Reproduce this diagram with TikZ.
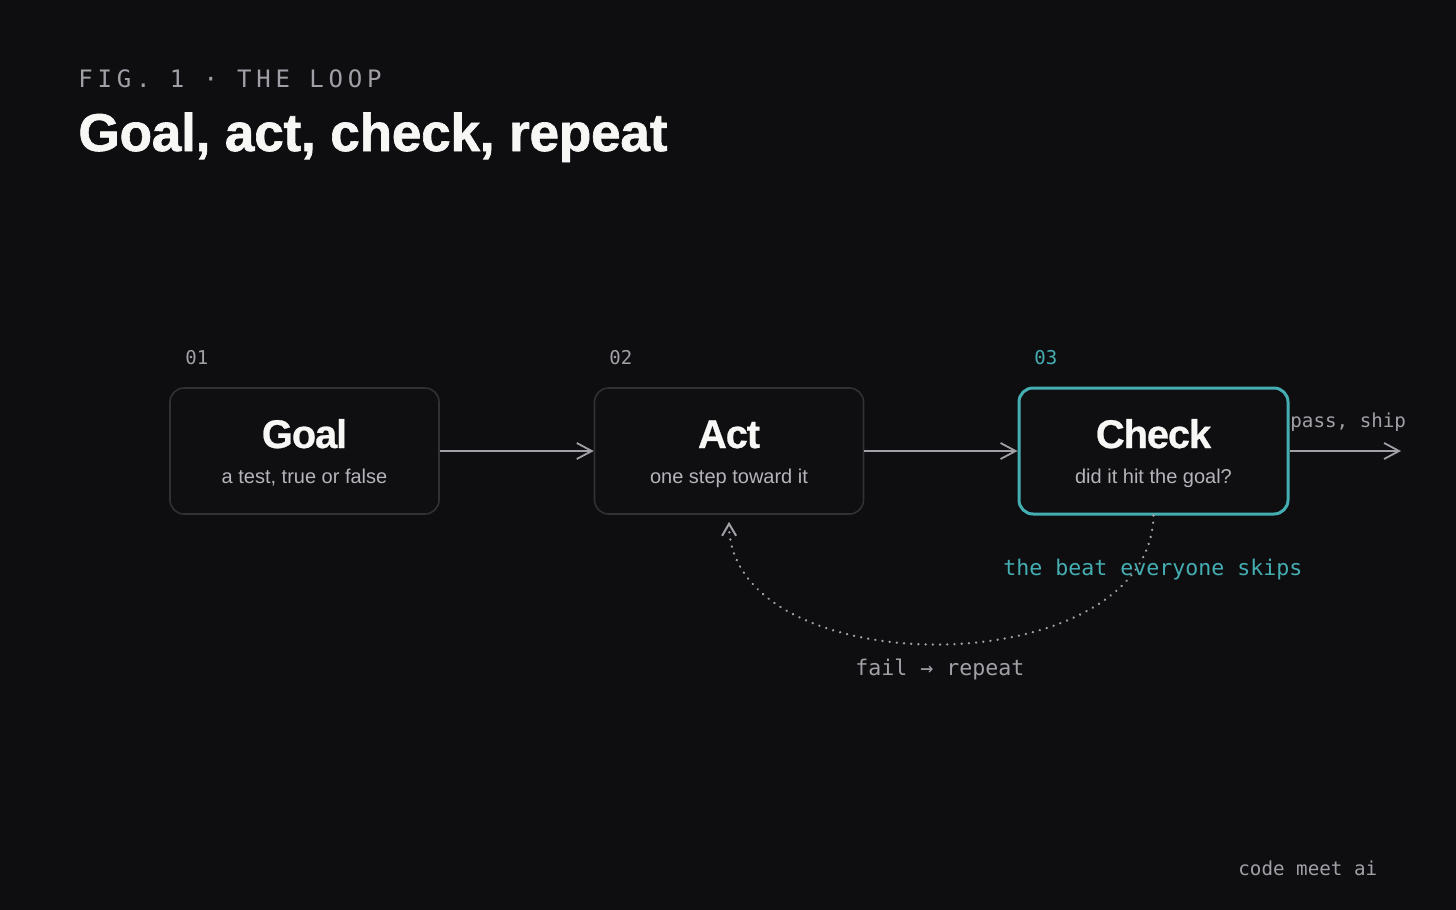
\documentclass[tikz,border=0pt]{standalone}
\usepackage{fontspec}
\setmainfont{Liberation Sans}
\newfontfamily\monof{DejaVu Sans Mono}
\newfontfamily\monosp[LetterSpace=20]{DejaVu Sans Mono}
\newfontfamily\headf[LetterSpace=-3, FakeBold=0.6]{Liberation Sans}
\newfontfamily\titlef[LetterSpace=-0.5, FakeBold=1.2]{Liberation Sans}
\usetikzlibrary{arrows.meta}
\definecolor{bg}{HTML}{0E0E11}
\definecolor{boxfill}{HTML}{0F0F12}
\definecolor{boxline}{HTML}{303035}
\definecolor{tealc}{HTML}{44AEB2}
\definecolor{muted}{HTML}{A0A0A6}
\definecolor{subc}{HTML}{B4B4BA}
\definecolor{titlec}{HTML}{F7F7F5}
\tikzset{
  stepbox/.style={draw=boxline, line width=0.8pt, fill=boxfill, rounded corners=7pt,
    minimum width=134.5pt, minimum height=63pt, inner sep=0pt},
  checkbox/.style={stepbox, draw=tealc, line width=1.5pt},
  boxtitle/.style={anchor=base, inner sep=0pt, text=titlec, font=\headf\bfseries\fontsize{20pt}{24pt}\selectfont},
  boxsub/.style={anchor=base, inner sep=0pt, text=subc, font=\fontsize{10pt}{12pt}\selectfont},
  numlabel/.style={anchor=base west, inner sep=0pt, text=muted, font=\monof\fontsize{9.5pt}{11pt}\selectfont},
  monolabel/.style={anchor=base west, inner sep=0pt, text=muted, font=\monof\fontsize{10.8pt}{13pt}\selectfont},
  smalllabel/.style={anchor=base west, inner sep=0pt, text=muted, font=\monof\fontsize{9.6pt}{11pt}\selectfont},
  flow/.style={draw=muted, line width=0.8pt, -{Straight Barb[length=7.5pt, width=8pt, line width=0.9pt]}},
  feedback/.style={draw=muted, line width=1.3pt, line cap=round, dash pattern=on 0.01pt off 3.6pt,
    -{Straight Barb[length=6pt, width=7pt, line width=1pt]}},
}
\begin{document}
\begin{tikzpicture}[x=0.5pt, y=-0.5pt]
\fill[bg] (0,0) rectangle (1456,910);
\useasboundingbox (0,0) rectangle (1456,910);

% header
\node[anchor=base west, inner sep=0pt, text=muted, font=\monosp\fontsize{12pt}{14pt}\selectfont] (fig) at (78,87) {FIG. 1 · THE LOOP};
\node[anchor=base west, inner sep=0pt, text=titlec, font=\titlef\bfseries\fontsize{26.6pt}{30pt}\selectfont] (title) at (78,151) {Goal, act, check, repeat};

% step numbers
\node[numlabel] (n1) at (185,364) {01};
\node[numlabel] (n2) at (609,364) {02};
\node[numlabel, text=tealc] (n3) at (1034,364) {03};

% boxes
\node[stepbox] (goal) at (304.5,451) {};
\node[stepbox] (act) at (729,451) {};
\node[checkbox] (check) at (1153.5,451) {};

\node[boxtitle] (goalT) at (304.5,448) {Goal};
\node[boxsub] (goalS) at (304.5,483) {a test, true or false};
\node[boxtitle] (actT) at (729,448) {Act};
\node[boxsub] (actS) at (729,483) {one step toward it};
\node[boxtitle] (checkT) at (1153.5,448) {Check};
\node[boxsub] (checkS) at (1153.5,483) {did it hit the goal?};

% flow arrows
\coordinate (out) at (1401,451);
\draw[flow] (goal.east) -- (act.west);
\draw[flow] (act.east) -- (check.west);
\draw[flow] (check.east) -- (out);
\node[smalllabel] (pass) at (1290,427) {pass, ship};

% feedback loop
\draw[feedback] (check.south) .. controls (1150,686) and (730,686) .. ([yshift=-3.5pt]act.south);
\node[monolabel, text=tealc] (beat) at (1003,575) {the beat everyone skips};
\node[monolabel] (fail) at (855,675) {fail → repeat};

% footer
\node[smalllabel] (brand) at (1238,875) {code meet ai};
\end{tikzpicture}
\end{document}
